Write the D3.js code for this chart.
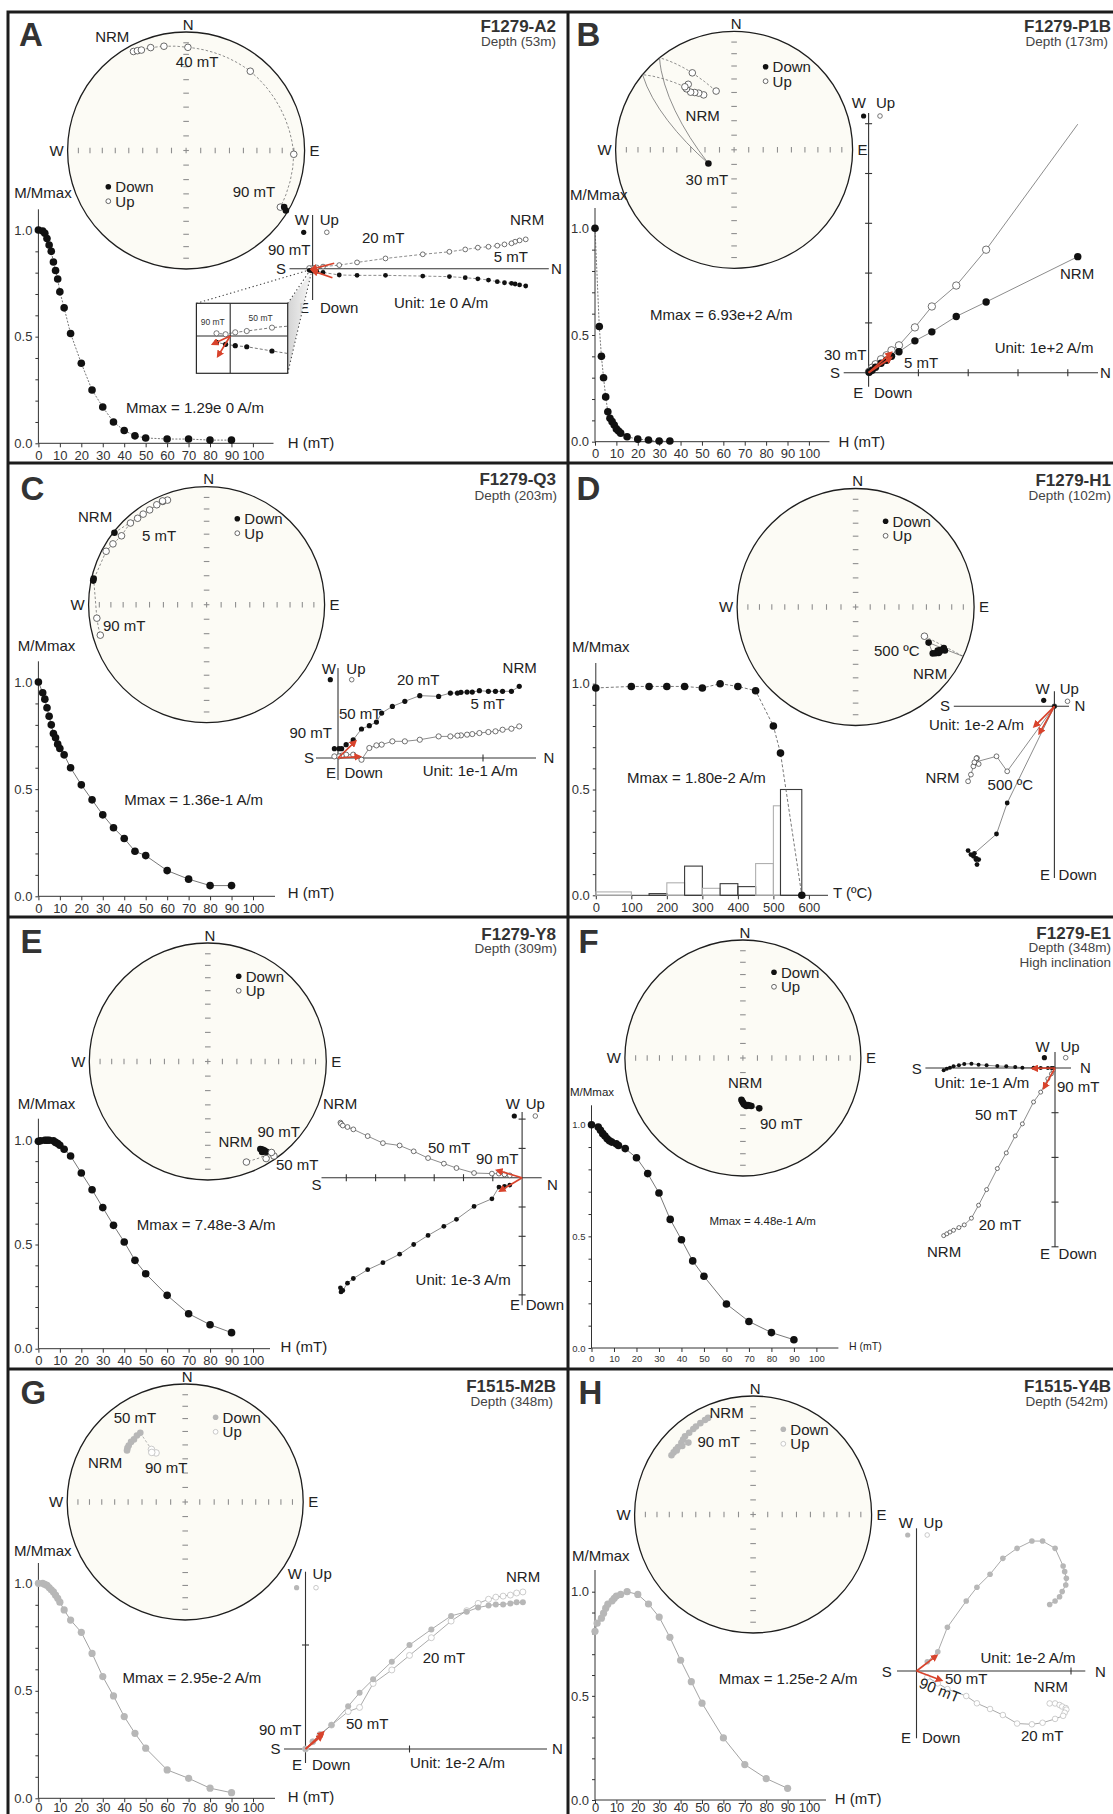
<!DOCTYPE html>
<html>
<head>
<meta charset="utf-8">
<script src="https://cdn.jsdelivr.net/npm/d3@7"></script>
<style>
  body { margin: 0; background: #fff; }
  svg { display: block; }
</style>
</head>
<body>
<script>
// ============ Data ============
// AF / thermal demagnetisation curves (step, M/Mmax)
const demagA_H = [0,2,3,4,5,6,7,8,9,10,12,15,20,25,30,35,40,45,50,60,70,80,90];
const demagA_M = [1,0.995,0.985,0.96,0.93,0.9,0.85,0.81,0.77,0.71,0.635,0.515,0.375,0.25,0.17,0.1,0.06,0.035,0.025,0.02,0.02,0.015,0.015];
const demagB_H = [0,2,3,4,5,6,7,8,9,10,11,12,15,20,25,30,35];
const demagB_M = [1,0.54,0.4,0.3,0.21,0.14,0.11,0.094,0.078,0.06,0.05,0.04,0.023,0.012,0.008,0.003,0.003];
const demagC_H = [0,2,3,4,5,6,7,8,9,10,12,15,20,25,30,35,40,45,50,60,70,80,90];
const demagC_M = [1,0.95,0.92,0.88,0.84,0.8,0.76,0.74,0.71,0.69,0.66,0.6,0.52,0.45,0.38,0.32,0.27,0.21,0.19,0.12,0.08,0.05,0.05];
const demagD_T = [0,100,150,200,250,300,350,400,450,500,520,580];
const demagD_M = [0.98,0.987,0.987,0.987,0.987,0.98,1.0,0.987,0.967,0.8,0.672,0];
const histD_from = [0,150,200,250,300,350,400,450,500,520];
const histD_to   = [100,200,250,300,350,400,450,500,520,580];
const histD_val  = [0.016,0.008,0.059,0.138,0.033,0.055,0.041,0.15,0.423,0.5];
const histD_tone = ["light","dark","light","dark","light","dark","dark","light","light","dark"];
const demagE_H = [0,1,3,4,5,7,8,9,10,12,15,20,25,30,35,40,45,50,60,70,80,90];
const demagE_M = [0.995,0.998,1,1,1,0.998,0.99,0.985,0.976,0.957,0.925,0.843,0.763,0.677,0.592,0.512,0.424,0.36,0.256,0.168,0.115,0.077];
const demagF_H = [0,3,4,5,6,7,8,9,11,12,15,20,25,30,35,40,45,50,60,70,80,90];
const demagF_M = [1,0.99,0.975,0.96,0.949,0.937,0.928,0.922,0.915,0.907,0.893,0.852,0.781,0.694,0.576,0.485,0.39,0.321,0.197,0.119,0.069,0.037];
const demagG_H = [0,2,3,4,5,6,7,8,9,10,12,15,20,25,30,35,40,45,50,60,70,80,90];
const demagG_M = [1,1,0.995,0.99,0.98,0.97,0.96,0.945,0.93,0.912,0.876,0.829,0.772,0.674,0.566,0.476,0.38,0.302,0.233,0.132,0.093,0.047,0.026];
const demagH_H = [0,1,3,4,5,6,8,9,10,12,15,20,25,30,35,40,45,50,60,70,80,90];
const demagH_M = [0.81,0.849,0.873,0.897,0.921,0.94,0.956,0.968,0.979,0.987,1.0,0.987,0.941,0.878,0.781,0.671,0.568,0.465,0.298,0.17,0.103,0.056];

// Stereonet directions (declination, inclination; negative = upper hemisphere)
const stereoA_dec = [332,334,336,341,348,1,39,92,121,120,121];
const stereoA_inc = [-6,-7,-8,-9,-11,-14,-15,-10,-8,5,2];
const stereoB_dec = [331,328,325.5,323,322,325,322,242,331.5,343];
const stereoB_inc = [-46,-43,-41,-39,-35,-33,-33,70,-27,-47];
const stereoC_dec = [308,337,339.5,337,333.5,329,325,321.4,317,309,303,298,282,283,263,254];
const stereoC_inc = [1,-5.5,-6,-5,-6,-7,-7,-7,-6,-8,-6,-4,2,2,-7,-7];
const stereoD_dec = [115,117,116,118,117,118,119,120,121,116,113];
const stereoD_inc = [19,20.5,17.3,20.8,21,22.6,21,23,25,32,-37];
const stereoE_dec = [149,148.5,148,149,147.5,148,147,145,149,145,159];
const stereoE_inc = [15,14,13.3,12,12,11.5,10,-3,-5,-7,-10];
const stereoF_dec = [182,181,180,179,178,176,174,172,170,162];
const stereoF_inc = [61,60,59,58,57.5,56.5,57,56.6,56,53];
const stereoG_dec = [311.5,313,315,318,320.7,324,327,327.3,329.3,326];
const stereoG_inc = [34.5,33.5,32.8,32,32,31,30.8,-46,-50,-48];
const stereoH_dec = [335,333,330,327,325,322,319,317,315,312,310,308,306,310,314,318];
const stereoH_inc = [11,11.5,12,12.5,13,13.5,13.5,14.5,15.5,16,16,16,16,17,18,19.5];

// Orthogonal vector components (North, East, Down) in each plot's unit
const zijA_N = [1.184,1.15,1.125,1.105,1.066,1.026,0.977,0.918,0.848,0.76,0.612,0.405,0.247,0.148,0.058,0.023,0.007,-0.0064,-0.019];
const zijA_E = [0.096,0.09,0.085,0.081,0.078,0.072,0.063,0.056,0.05,0.044,0.041,0.037,0.037,0.035,0.0208,0.0149,0.0135,0.0115,0.0088];
const zijA_D = [-0.163,-0.157,-0.15,-0.141,-0.135,-0.128,-0.122,-0.117,-0.107,-0.094,-0.08,-0.057,-0.035,-0.02,-0.0116,-0.0069,-0.0051,-0.0024,-0.0037];
const zijB_N = [4.2,2.36,1.76,1.27,0.93,0.61,0.46,0.36,0.25,0.14,0.07,0.01];
const zijB_E = [-2.33,-1.42,-1.13,-0.82,-0.64,-0.42,-0.33,-0.25,-0.19,-0.11,-0.05,-0.01];
const zijB_D = [-4.99,-2.47,-1.75,-1.33,-0.91,-0.55,-0.45,-0.35,-0.27,-0.17,-0.1,-0.02];
const zijC_N = [1.25,1.196,1.135,1.086,1.037,0.975,0.926,0.89,0.848,0.824,0.775,0.694,0.564,0.461,0.375,0.301,0.265,0.216,0.162,0.105,0.056,0.025,0.007,-0.025];
const zijC_E = [-0.494,-0.46,-0.46,-0.46,-0.46,-0.464,-0.455,-0.455,-0.453,-0.448,-0.448,-0.425,-0.43,-0.391,-0.356,-0.31,-0.248,-0.223,-0.2,-0.126,-0.092,-0.064,-0.064,-0.064];
const zijC_D = [-0.218,-0.202,-0.195,-0.184,-0.179,-0.172,-0.165,-0.161,-0.156,-0.154,-0.149,-0.149,-0.126,-0.115,-0.115,-0.092,-0.087,-0.069,0.012,-0.023,-0.023,-0.016,-0.011,-0.011];
const zijD_N = [-0.863,-0.835,-0.81,-0.785,-0.774,-0.757,-0.78,-0.8,-0.579,-0.472,0];
const zijD_E = [1.443,1.483,1.5,1.533,1.583,1.533,1.52,1.47,1.277,0.967,0];
const zijD_D = [0.75,0.683,0.6,0.557,0.517,0.577,0.52,0.56,0.5,0.65,0];
const zijE_N = [-6.2,-6.18,-6.12,-5.96,-5.76,-5.27,-4.75,-4.18,-3.7,-3.21,-2.67,-2.24,-1.64,-1.03,-0.79,-0.6,-0.42];
const zijE_E = [3.76,3.9,3.85,3.6,3.44,3.14,2.9,2.61,2.28,1.97,1.66,1.42,0.98,0.72,0.32,0.3,0.25];
const zijE_D = [-1.88,-1.84,-1.78,-1.73,-1.65,-1.42,-1.18,-1.1,-0.9,-0.67,-0.48,-0.33,-0.16,-0.14,-0.14,-0.11,-0.08];
const zijF_N = [-2.49,-2.42,-2.35,-2.27,-2.15,-2.03,-1.87,-1.71,-1.53,-1.29,-1.09,-0.89,-0.73,-0.48,-0.32,-0.16,-0.08,-0.04];
const zijF_E = [0.05,0.015,-0.007,-0.037,-0.06,-0.09,-0.097,-0.075,-0.06,-0.045,-0.037,-0.022,-0.007,-0.007,0,0,0,0];
const zijF_D = [3.75,3.71,3.67,3.63,3.57,3.51,3.36,3.07,2.72,2.25,1.9,1.52,1.25,0.76,0.54,0.24,0.13,0.05];
const zijG_N = [2.09,2.03,1.97,1.9,1.83,1.76,1.66,1.55,1.4,1.21,1.0,0.83,0.65,0.52,0.41,0.25,0.14,0.07,0];
const zijG_E = [-1.41,-1.41,-1.4,-1.39,-1.39,-1.38,-1.36,-1.32,-1.28,-1.15,-1.0,-0.84,-0.67,-0.54,-0.41,-0.23,-0.14,-0.07,0];
const zijG_D = [-1.51,-1.5,-1.48,-1.47,-1.46,-1.44,-1.4,-1.33,-1.23,-1.07,-0.9,-0.76,-0.63,-0.4,-0.36,-0.23,-0.14,-0.07,0];
const zijH_N = [0.862,0.897,0.926,0.943,0.966,0.97,0.959,0.949,0.897,0.816,0.747,0.651,0.559,0.476,0.391,0.322,0.2,0.138,0.07];
const zijH_E = [-0.43,-0.453,-0.481,-0.514,-0.557,-0.6,-0.643,-0.68,-0.794,-0.841,-0.841,-0.794,-0.729,-0.626,-0.542,-0.453,-0.283,-0.125,-0.06];
const zijH_D = [0.21,0.21,0.22,0.23,0.24,0.25,0.27,0.29,0.31,0.335,0.345,0.34,0.285,0.246,0.209,0.162,0.117,0.08,0.04];

// Principal-component fit directions near the origin [N1, up1, N2, up2] per projection
const fitA = [[0.12,0.03,-0.005,-0.002],[0.11,-0.05,0.0,-0.012]];
const fitB = [[0,0,0.45,0.4],[0,0,0.45,0.3]];
const fitC = [[0,0,0.12,0.115],[0,0,0.15,0.01]];
const fitD = [[0,0,-0.2,-0.2],[0,0,-0.15,-0.27]];
const fitE = [[0,0,-0.85,0.25],[0,0,-0.75,-0.45]];
const fitF = [[0,0,-0.5,-0.01],[0,0,-0.25,-0.45]];
const fitG = [[0,0,0.17,0.16],[0,0,0.16,0.13]];
const fitH = [[0,0,0.13,0.1],[0,0,0.16,-0.06]];
const fitA_inset = [[0,0,-0.024,-0.011],[0,0,-0.017,-0.028]];

// ============ Drawing ============
const FONT = "'Liberation Sans', Arial, Helvetica, sans-serif";
const RED = "#d8432c";
const GREYDOT = "#b7b7b7";

const svg = d3.select("body").append("svg")
  .attr("width", 1113).attr("height", 1814)
  .style("font-family", FONT);

const defs = svg.append("defs");
defs.append("marker").attr("id", "redHead")
  .attr("viewBox", "0 0 10 10").attr("refX", 7).attr("refY", 5)
  .attr("markerWidth", 4.5).attr("markerHeight", 4.5).attr("orient", "auto")
  .append("path").attr("d", "M0,0L10,5L0,10z").attr("fill", RED);
const grad = defs.append("linearGradient").attr("id", "funnel").attr("x1", 0).attr("x2", 1).attr("y1", 0).attr("y2", 0);
grad.append("stop").attr("offset", "0%").attr("stop-color", "#cfcfcf");
grad.append("stop").attr("offset", "100%").attr("stop-color", "#f4f4f4");

function txt(g, s, x, y, o = {}) {
  const t = g.append("text").attr("x", x).attr("y", y)
    .attr("font-size", o.size || 15)
    .attr("text-anchor", o.anchor || "start")
    .attr("fill", o.fill || "#222")
    .text(s);
  if (o.weight) t.attr("font-weight", o.weight);
  if (o.rotate) t.attr("transform", `rotate(${o.rotate},${x},${y})`);
  return t;
}

// ---- stereonet (equal-area, lower hemisphere) ----
function drawStereo(g, s) {
  const proj = d3.geoAzimuthalEqualArea().rotate([0, -90])
    .scale(s.r / Math.SQRT2).translate([s.cx, s.cy]).precision(0.2);
  const path = d3.geoPath(proj);
  const ll = (d, i) => [180 - d, Math.abs(i)];
  g.append("circle").attr("cx", s.cx).attr("cy", s.cy).attr("r", s.r)
    .attr("fill", "#fcfbf5").attr("stroke", "#1e1e1e").attr("stroke-width", 1.3);
  const tk = g.append("g").attr("stroke", "#8f8f8f").attr("stroke-width", 1.1);
  [0, 90, 180, 270].forEach(az => {
    d3.range(10, 90, 10).forEach(t => {
      const [x, y] = proj(ll(az, t));
      if (az % 180 === 0) tk.append("line").attr("x1", x - 2.8).attr("x2", x + 2.8).attr("y1", y).attr("y2", y);
      else tk.append("line").attr("x1", x).attr("x2", x).attr("y1", y - 2.8).attr("y2", y + 2.8);
    });
  });
  tk.append("line").attr("x1", s.cx - 2.8).attr("x2", s.cx + 2.8).attr("y1", s.cy).attr("y2", s.cy);
  tk.append("line").attr("x1", s.cx).attr("x2", s.cx).attr("y1", s.cy - 2.8).attr("y2", s.cy + 2.8);

  txt(g, "N", s.cx + 2, s.cy - s.r - 2.5, { anchor: "middle" });
  txt(g, "W", s.cx - s.r - 4, s.cy + 5, { anchor: "end" });
  txt(g, "E", s.cx + s.r + 5, s.cy + 5);

  const dec = s.dec, inc = s.inc;
  const lineCol = s.grey ? "#9a9a9a" : "#6a6a6a";
  const lines = g.append("g").attr("fill", "none").attr("stroke", lineCol).attr("stroke-width", 0.75);
  const r = Math.PI / 180;
  const vec = (d, i) => [Math.cos(i * r) * Math.cos(d * r), Math.cos(i * r) * Math.sin(d * r), Math.sin(i * r)];
  for (let k = 0; k < dec.length - 1; k++) {
    const a = [dec[k], inc[k]], b = [dec[k + 1], inc[k + 1]];
    const upA = a[1] < 0, upB = b[1] < 0;
    if (upA === upB) {
      lines.append("path").attr("d", path({ type: "LineString", coordinates: [ll(...a), ll(...b)] }))
        .attr("stroke-dasharray", upA ? "2.5,2" : null);
    } else if (s.crossEdge) {
      const va = vec(...a), vb = vec(...b);
      const t = va[2] / (va[2] - vb[2]);
      const pn = va[0] + t * (vb[0] - va[0]), pe = va[1] + t * (vb[1] - va[1]);
      const dp = Math.atan2(pe, pn) / r;
      const up = upA ? a : b, dn = upA ? b : a;
      lines.append("path").attr("d", path({ type: "LineString", coordinates: [ll(...up), ll(dp, 0)] }))
        .attr("stroke-dasharray", "2.5,2");
      lines.append("path").attr("d", path({ type: "LineString", coordinates: [ll(dp, 0), ll(...dn)] }));
    } else {
      const p1 = proj(ll(...a)), p2 = proj(ll(...b));
      lines.append("line").attr("x1", p1[0]).attr("y1", p1[1]).attr("x2", p2[0]).attr("y2", p2[1])
        .attr("stroke-dasharray", "2.5,2");
    }
  }
  const pts = dec.map((d, k) => ({ p: proj(ll(d, inc[k])), up: inc[k] < 0 }));
  const fillCol = s.grey ? GREYDOT : "#111";
  g.append("g").selectAll("circle").data(pts).join("circle")
    .attr("cx", d => d.p[0]).attr("cy", d => d.p[1]).attr("r", 3.3)
    .attr("fill", d => d.up ? "#fff" : fillCol)
    .attr("stroke", d => d.up ? (s.grey ? "#bdbdbd" : "#444") : "none")
    .attr("stroke-width", 0.8);

  // legend
  const [lx, ly] = s.legend;
  g.append("circle").attr("cx", lx).attr("cy", ly).attr("r", 2.8).attr("fill", fillCol);
  g.append("circle").attr("cx", lx).attr("cy", ly + 14.5).attr("r", 2.4)
    .attr("fill", "#fff").attr("stroke", s.grey ? "#bdbdbd" : "#444").attr("stroke-width", 0.8);
  txt(g, "Down", lx + 7, ly + 5.5);
  txt(g, "Up", lx + 7, ly + 20);

  s.labels.forEach(l => txt(g, l[0], l[1], l[2]));
}

// ---- demagnetisation curve ----
function drawDemag(g, d) {
  const x = d3.scaleLinear().domain([0, d.xMax]).range([d.x0, d.x1]);
  const y = d3.scaleLinear().domain([0, 1]).range([d.y0, d.y1]);
  const small = d.small;
  const tickSize = small ? 9.5 : 13;
  const ax = g.append("g").attr("stroke", "#333").attr("stroke-width", 1);
  ax.append("line").attr("x1", d.x0).attr("x2", d.x0).attr("y1", d.y0).attr("y2", d.top);
  ax.append("line").attr("x1", d.x0).attr("x2", d.right).attr("y1", d.y0).attr("y2", d.y0);

  const yAxis = d3.axisLeft(y).tickValues(d3.range(0, 1.0001, 0.1)).tickSize(3).tickPadding(3)
    .tickFormat(v => Math.abs(v * 2 - Math.round(v * 2)) < 1e-6 ? d3.format(".1f")(v) : "");
  const ya = g.append("g").attr("transform", `translate(${d.x0},0)`).call(yAxis);
  ya.select(".domain").remove();
  ya.selectAll("line").attr("stroke", "#333");
  ya.selectAll("text").attr("font-size", tickSize).attr("fill", "#333").attr("font-family", FONT);

  const step = d.xMax === 600 ? 100 : 10;
  const xAxis = d3.axisBottom(x).tickValues(d3.range(0, d.xMax + 1, step)).tickSize(4)
    .tickPadding(d.xPad === undefined ? 3 : d.xPad)
    .tickFormat(d3.format("d"));
  const xa = g.append("g").attr("transform", `translate(0,${d.y0})`).call(xAxis);
  xa.select(".domain").remove();
  xa.selectAll("line").attr("stroke", "#333");
  xa.selectAll("text").attr("font-size", tickSize).attr("fill", "#333").attr("font-family", FONT);

  if (d.hist) {
    const h = d.hist;
    g.append("g").selectAll("rect").data(h.from).join("rect")
      .attr("x", (v, i) => x(v)).attr("width", (v, i) => x(h.to[i]) - x(v))
      .attr("y", (v, i) => y(h.val[i])).attr("height", (v, i) => y(0) - y(h.val[i]))
      .attr("fill", "none").attr("stroke-width", 1.1)
      .attr("stroke", (v, i) => h.tone[i] === "dark" ? "#3a3a3a" : "#b0b0b0");
  }

  const pts = d.xs.map((v, i) => [x(v), y(d.ms[i])]);
  g.append("path").attr("d", d3.line()(pts)).attr("fill", "none")
    .attr("stroke", d.grey ? "#8c8c8c" : "#555").attr("stroke-width", 0.8)
    .attr("stroke-dasharray", d.dash || null);
  g.append("g").selectAll("circle").data(pts).join("circle")
    .attr("cx", p => p[0]).attr("cy", p => p[1]).attr("r", d.grey ? 3.6 : 3.8)
    .attr("fill", d.grey ? GREYDOT : "#111");

  txt(g, "M/Mmax", d.mlab[0], d.mlab[1], { size: small ? 11.5 : 15 });
  txt(g, d.xlabel, d.xlab[0], d.xlab[1], { size: small ? 10.5 : 15 });
  txt(g, d.mmax, d.mmaxAt[0], d.mmaxAt[1], { size: small ? 11.5 : 15 });
}

// ---- orthogonal (Zijderveld) projection ----
function drawRedFits(g, x, y, fits) {
  fits.forEach(f => {
    g.append("line").attr("x1", x(f[0])).attr("y1", y(f[1])).attr("x2", x(f[2])).attr("y2", y(f[3]))
      .attr("stroke", RED).attr("stroke-width", 1.7).attr("marker-end", "url(#redHead)");
  });
}

function drawZij(g, z) {
  const x = d3.scaleLinear().domain([0, 1]).range([z.o[0], z.o[0] + z.u]);
  const y = d3.scaleLinear().domain([0, 1]).range([z.o[1], z.o[1] - z.u]);
  const ax = g.append("g").attr("stroke", "#333").attr("stroke-width", 1.1);
  ax.append("line").attr("x1", z.h[0]).attr("x2", z.h[1]).attr("y1", z.o[1]).attr("y2", z.o[1]);
  ax.append("line").attr("x1", z.o[0]).attr("x2", z.o[0]).attr("y1", z.v[0]).attr("y2", z.v[1]);
  (z.hT || []).forEach(t => ax.append("line").attr("x1", x(t)).attr("x2", x(t)).attr("y1", z.o[1] - 3.5).attr("y2", z.o[1] + 3.5));
  (z.vT || []).forEach(t => ax.append("line").attr("x1", z.o[0] - 3.5).attr("x2", z.o[0] + 3.5).attr("y1", y(t)).attr("y2", y(t)));

  const hor = z.N.map((n, i) => [x(n), y(-z.E[i])]);
  const ver = z.N.map((n, i) => [x(n), y(-z.D[i])]);
  const lineCol = z.grey ? "#8e8e8e" : "#666";
  [hor, ver].forEach(s => g.append("path").attr("d", d3.line()(s)).attr("fill", "none")
    .attr("stroke", lineCol).attr("stroke-width", 0.75).attr("stroke-dasharray", z.dash || null));

  const fillCol = z.grey ? GREYDOT : "#111";
  const hide = z.hideOpen || [];
  g.append("g").selectAll("circle").data(ver.filter((p, i) => !hide.includes(i))).join("circle")
    .attr("cx", p => p[0]).attr("cy", p => p[1]).attr("r", z.mr)
    .attr("fill", "#fff").attr("stroke", z.grey ? "#bcbcbc" : "#444").attr("stroke-width", 0.75);
  g.append("g").selectAll("circle").data(hor).join("circle")
    .attr("cx", p => p[0]).attr("cy", p => p[1]).attr("r", z.mr).attr("fill", fillCol);

  drawRedFits(g, x, y, z.fit);

  // axis annotations
  txt(g, "W", z.labW[0], z.labW[1], { anchor: "end" });
  txt(g, "Up", z.labUp[0], z.labUp[1]);
  g.append("circle").attr("cx", z.dotF[0]).attr("cy", z.dotF[1]).attr("r", 2.6).attr("fill", fillCol);
  g.append("circle").attr("cx", z.dotO[0]).attr("cy", z.dotO[1]).attr("r", 2.3).attr("fill", "#fff")
    .attr("stroke", z.grey ? "#bcbcbc" : "#555").attr("stroke-width", 0.8);
  txt(g, "S", z.labS[0], z.labS[1], { anchor: "end" });
  txt(g, "N", z.labN[0], z.labN[1]);
  txt(g, "E", z.labE[0], z.labE[1], { anchor: "end" });
  txt(g, "Down", z.labDown[0], z.labDown[1]);
  z.labels.forEach(l => txt(g, l[0], l[1], l[2], { rotate: l[3] || 0 }));
}

// ---- magnified view of the last AF steps (panel A) ----
function drawInsetA(g) {
  const bx = 196.4, by = 303.3, bw = 91.3, bh = 70;
  const apex = [311, 271];
  g.append("polygon").attr("points", `${bx + bw},${by} ${bx + bw},${by + bh} ${apex[0]},${apex[1] + 2}`)
    .attr("fill", "url(#funnel)").attr("opacity", 0.9);
  const dots = g.append("g").attr("stroke", "#444").attr("stroke-width", 1.1).attr("stroke-dasharray", "1.3,2.6");
  dots.append("line").attr("x1", bx).attr("y1", by).attr("x2", apex[0] - 5).attr("y2", apex[1]);
  dots.append("line").attr("x1", bx + bw).attr("y1", by).attr("x2", apex[0] - 2).attr("y2", apex[1] + 1);
  dots.append("line").attr("x1", bx + bw).attr("y1", by + bh).attr("x2", apex[0]).attr("y2", apex[1] + 3);

  g.append("rect").attr("x", bx).attr("y", by).attr("width", bw).attr("height", bh)
    .attr("fill", "#fff").attr("stroke", "#2a2a2a").attr("stroke-width", 1.2);
  defs.append("clipPath").attr("id", "insetClip").append("rect")
    .attr("x", bx).attr("y", by).attr("width", bw).attr("height", bh);
  const o = [230.2, 336], u = 720;
  const x = d3.scaleLinear().domain([0, 1]).range([o[0], o[0] + u]);
  const y = d3.scaleLinear().domain([0, 1]).range([o[1], o[1] - u]);
  const ig = g.append("g").attr("clip-path", "url(#insetClip)");
  ig.append("line").attr("x1", bx).attr("x2", bx + bw).attr("y1", o[1]).attr("y2", o[1]).attr("stroke", "#2a2a2a").attr("stroke-width", 1.1);
  ig.append("line").attr("x1", o[0]).attr("x2", o[0]).attr("y1", by).attr("y2", by + bh).attr("stroke", "#2a2a2a").attr("stroke-width", 1.1);
  const idx = d3.range(13, zijA_N.length);
  const hor = idx.map(i => [x(zijA_N[i]), y(-zijA_E[i])]);
  const ver = idx.map(i => [x(zijA_N[i]), y(-zijA_D[i])]);
  [hor, ver].forEach(s => ig.append("path").attr("d", d3.line()(s)).attr("fill", "none")
    .attr("stroke", "#555").attr("stroke-width", 0.8).attr("stroke-dasharray", "3,2"));
  ig.append("g").selectAll("circle").data(ver.slice(1)).join("circle")
    .attr("cx", p => p[0]).attr("cy", p => p[1]).attr("r", 2.6)
    .attr("fill", "#fff").attr("stroke", "#555").attr("stroke-width", 0.8);
  ig.append("g").selectAll("circle").data(hor.slice(1)).join("circle")
    .attr("cx", p => p[0]).attr("cy", p => p[1]).attr("r", 2.6).attr("fill", "#111");
  drawRedFits(ig, x, y, fitA_inset);
  txt(g, "90 mT", 200.7, 325, { size: 8.5, fill: "#333" });
  txt(g, "50 mT", 248.6, 320.5, { size: 8.5, fill: "#333" });
}

// ============ Panel layout ============
const panels = [
  { letter: ["A", 19, 46], title: ["F1279-A2", 556, 31.7], depth: ["Depth (53m)", 556, 46],
    stereo: { cx: 186.1, cy: 150.5, r: 118.5, dec: stereoA_dec, inc: stereoA_inc, legend: [108.3, 186.7],
      labels: [["NRM", 95.2, 41.7], ["40 mT", 175.8, 66.7], ["90 mT", 232.7, 196.7]] },
    demag: { x0: 38.4, x1: 252.9, xMax: 100, y0: 443.3, y1: 230, top: 209.3, right: 273.5,
      xs: demagA_H, ms: demagA_M, dash: "2,1.5", xlabel: "H (mT)",
      mlab: [14.2, 198.3], xlab: [287.7, 448], mmax: "Mmax = 1.29e 0 A/m", mmaxAt: [126, 413.3] },
    zij: { o: [312.6, 268.7], u: 180, h: [289.5, 548.8], v: [215, 300], N: zijA_N, E: zijA_E, D: zijA_D,
      mr: 2.4, dash: "3,2", fit: fitA,
      labW: [309, 225.3], labUp: [319.7, 225.3], dotF: [303.7, 232.3], dotO: [326.8, 232.3],
      labS: [286, 274], labN: [551, 274], labE: [309, 313], labDown: [320, 313],
      labels: [["90 mT", 268, 255], ["20 mT", 362, 243.3], ["NRM", 510, 225], ["5 mT", 493.7, 261.7], ["Unit: 1e 0 A/m", 394, 308.3]] },
    inset: true },
  { letter: ["B", 576.5, 46], title: ["F1279-P1B", 1111, 31.7], depth: ["Depth (173m)", 1108, 46],
    stereo: { cx: 734.1, cy: 149.8, r: 118.5, dec: stereoB_dec, inc: stereoB_inc, legend: [765.6, 66.7], crossEdge: true,
      labels: [["NRM", 685.6, 120.7], ["30 mT", 685.6, 185]] },
    demag: { x0: 595, x1: 808.9, xMax: 100, y0: 441.7, y1: 228.3, top: 208, right: 829.5,
      xs: demagB_H, ms: demagB_M, dash: "2,1.5", xlabel: "H (mT)",
      mlab: [570, 200], xlab: [838.4, 446.7], mmax: "Mmax = 6.93e+2 A/m", mmaxAt: [650, 320] },
    zij: { o: [868.6, 372.7], u: 49.8, h: [843.7, 1098], v: [113, 386.7], N: zijB_N, E: zijB_E, D: zijB_D,
      mr: 3.7, fit: fitB, hT: [1, 2, 3, 4], vT: [1, 2, 3, 4, 5], hideOpen: [0],
      labW: [866, 108], labUp: [876, 108], dotF: [863.6, 116], dotO: [880, 116],
      labS: [840, 377.7], labN: [1100, 377.7], labE: [863.3, 398], labDown: [874, 398],
      labels: [["30 mT", 824, 360], ["5 mT", 904, 367.7], ["NRM", 1060, 279.3], ["Unit: 1e+2 A/m", 994.7, 353.3]] } },
  { letter: ["C", 20.5, 500], title: ["F1279-Q3", 556, 485.3], depth: ["Depth (203m)", 557, 500],
    stereo: { cx: 206.6, cy: 604.7, r: 118, dec: stereoC_dec, inc: stereoC_inc, legend: [237.3, 518.7],
      labels: [["NRM", 78, 522.3], ["5 mT", 142, 541.3], ["90 mT", 103, 631.3]] },
    demag: { x0: 38.4, x1: 253, xMax: 100, y0: 896.3, y1: 682, top: 661.3, right: 275,
      xs: demagC_H, ms: demagC_M, xlabel: "H (mT)",
      mlab: [17.8, 650.7], xlab: [287.7, 898], mmax: "Mmax = 1.36e-1 A/m", mmaxAt: [124.3, 804.7] },
    zij: { o: [338, 758], u: 145, h: [316, 536], v: [668, 780], N: zijC_N, E: zijC_E, D: zijC_D,
      mr: 2.6, fit: fitC, hT: [1],
      labW: [336, 674], labUp: [346.3, 674], dotF: [330.3, 679.7], dotO: [351.7, 679.7],
      labS: [314, 763], labN: [543.5, 763], labE: [336, 778], labDown: [344.5, 778],
      labels: [["NRM", 502.6, 673], ["20 mT", 397, 685.3], ["5 mT", 470.6, 708.7], ["50 mT", 339, 718.7], ["90 mT", 289.5, 738], ["Unit: 1e-1 A/m", 422.7, 776.3]] } },
  { letter: ["D", 576.5, 500], title: ["F1279-H1", 1111, 486], depth: ["Depth (102m)", 1111, 500],
    stereo: { cx: 855.6, cy: 607, r: 118.5, dec: stereoD_dec, inc: stereoD_inc, legend: [885.6, 521.3], crossEdge: true,
      labels: [["500 ºC", 874, 655.7], ["NRM", 913, 679]] },
    demag: { x0: 595.8, x1: 808.9, xMax: 600, y0: 895.3, y1: 683.7, top: 663, right: 828,
      xs: demagD_T, ms: demagD_M, dash: "3,2", xlabel: "T (ºC)",
      hist: { from: histD_from, to: histD_to, val: histD_val, tone: histD_tone },
      mlab: [572, 652], xlab: [833, 898], mmax: "Mmax = 1.80e-2 A/m", mmaxAt: [627, 783] },
    zij: { o: [1054.4, 706.3], u: 100, h: [953.8, 1069], v: [691.3, 878], N: zijD_N, E: zijD_E, D: zijD_D,
      mr: 2.4, fit: fitD,
      labW: [1049.7, 694], labUp: [1059.7, 694], dotF: [1043.7, 700.3], dotO: [1067.5, 701.3],
      labS: [950, 711.3], labN: [1074.6, 711.3], labE: [1050, 879.7], labDown: [1058.6, 879.7],
      labels: [["Unit: 1e-2 A/m", 929, 729.7], ["NRM", 925.4, 783], ["500 ºC", 987.6, 789.7]] } },
  { letter: ["E", 20.5, 953], title: ["F1279-Y8", 556, 940], depth: ["Depth (309m)", 557, 953],
    stereo: { cx: 207.8, cy: 1061.5, r: 118.5, dec: stereoE_dec, inc: stereoE_inc, legend: [238.7, 976.3],
      labels: [["NRM", 218.4, 1147], ["90 mT", 257.5, 1137], ["50 mT", 276, 1170.3]] },
    demag: { x0: 38.4, x1: 253, xMax: 100, y0: 1348.7, y1: 1140.3, top: 1118.7, right: 270,
      xs: demagE_H, ms: demagE_M, xlabel: "H (mT)",
      mlab: [17.8, 1108.7], xlab: [280.6, 1352], mmax: "Mmax = 7.48e-3 A/m", mmaxAt: [136.8, 1230.3] },
    zij: { o: [522.1, 1177.7], u: 29.3, h: [321.5, 541.7], v: [1112, 1305.3], N: zijE_N, E: zijE_E, D: zijE_D,
      mr: 2.4, fit: fitE, hT: [-1, -2, -3, -4, -5, -6], vT: [2, 1, -1, -2, -3, -4],
      labW: [520, 1108.7], labUp: [525.7, 1108.7], dotF: [514.3, 1116], dotO: [535.3, 1116],
      labS: [321.5, 1190], labN: [547, 1190], labE: [520, 1310.3], labDown: [525.7, 1310.3],
      labels: [["NRM", 323, 1108.7], ["50 mT", 428, 1152.7], ["90 mT", 476, 1163.7], ["Unit: 1e-3 A/m", 415.6, 1285.3]] } },
  { letter: ["F", 578.5, 953], title: ["F1279-E1", 1111, 938.7], depth: ["Depth (348m)", 1111, 952], extra: ["High inclination", 1111, 967],
    stereo: { cx: 742.9, cy: 1058, r: 118, dec: stereoF_dec, inc: stereoF_inc, legend: [774, 972.3],
      labels: [["NRM", 728, 1088], ["90 mT", 760, 1128.7]] },
    demag: { x0: 591.5, x1: 816.4, xMax: 100, y0: 1348, y1: 1124.7, top: 1105.3, right: 838.4, small: true,
      xs: demagF_H, ms: demagF_M, xlabel: "H (mT)",
      mlab: [570, 1096], xlab: [849, 1350.3], mmax: "Mmax = 4.48e-1 A/m", mmaxAt: [709.5, 1224.7] },
    zij: { o: [1055, 1068], u: 44.7, h: [925.4, 1071], v: [1052, 1247], N: zijF_N, E: zijF_E, D: zijF_D,
      mr: 2.0, fit: fitF, vT: [-1, -2, -3, -4],
      labW: [1049.7, 1052], labUp: [1060.4, 1052], dotF: [1044.4, 1057.7], dotO: [1065.7, 1057.7],
      labS: [921.8, 1073.7], labN: [1080, 1073], labE: [1050, 1258.7], labDown: [1058.6, 1258.7],
      labels: [["Unit: 1e-1 A/m", 934.3, 1088], ["90 mT", 1057, 1092], ["50 mT", 975, 1120.3], ["20 mT", 978.7, 1230.3], ["NRM", 927, 1257]] } },
  { letter: ["G", 20.5, 1404], title: ["F1515-M2B", 556, 1391.7], depth: ["Depth (348m)", 553, 1405.7],
    stereo: { cx: 185.2, cy: 1502, r: 118, dec: stereoG_dec, inc: stereoG_inc, legend: [215.6, 1417.3], grey: true,
      labels: [["50 mT", 113.7, 1422.7], ["NRM", 88, 1468.3], ["90 mT", 145, 1473.3]] },
    demag: { x0: 38.4, x1: 253, xMax: 100, y0: 1798.3, y1: 1583.3, top: 1563, right: 275, grey: true, xPad: 0,
      xs: demagG_H, ms: demagG_M, xlabel: "H (mT)",
      mlab: [14, 1555.7], xlab: [287.7, 1801.7], mmax: "Mmax = 2.95e-2 A/m", mmaxAt: [122.5, 1683.3] },
    zij: { o: [305.5, 1749], u: 104, h: [284, 547], v: [1571.7, 1763], N: zijG_N, E: zijG_E, D: zijG_D,
      mr: 3.0, fit: fitG, hT: [1], vT: [1], grey: true,
      labW: [302, 1579], labUp: [312.6, 1579], dotF: [296.6, 1587.7], dotO: [316, 1587.7],
      labS: [280.6, 1754.3], labN: [552, 1754.3], labE: [302, 1770], labDown: [312, 1770],
      labels: [["NRM", 506, 1581.7], ["20 mT", 422.7, 1662.7], ["50 mT", 346, 1729.3], ["90 mT", 259, 1735], ["Unit: 1e-2 A/m", 410, 1768.3]] } },
  { letter: ["H", 578.5, 1404], title: ["F1515-Y4B", 1111, 1391.7], depth: ["Depth (542m)", 1108, 1405.7],
    stereo: { cx: 753.1, cy: 1514.5, r: 118.5, dec: stereoH_dec, inc: stereoH_inc, legend: [783.3, 1429.3], grey: true,
      labels: [["NRM", 709.5, 1417.7], ["90 mT", 697.4, 1446.7]] },
    demag: { x0: 595, x1: 809, xMax: 100, y0: 1800, y1: 1591.7, top: 1570, right: 826, grey: true, xPad: -1,
      xs: demagH_H, ms: demagH_M, xlabel: "H (mT)",
      mlab: [572, 1561], xlab: [834.8, 1804.3], mmax: "Mmax = 1.25e-2 A/m", mmaxAt: [718.7, 1684.3] },
    zij: { o: [916.5, 1671], u: 154.5, h: [897, 1085.3], v: [1528.3, 1738.3], N: zijH_N, E: zijH_E, D: zijH_D,
      mr: 2.8, fit: fitH, hT: [1], grey: true,
      labW: [913, 1528.3], labUp: [923.6, 1528.3], dotF: [907.7, 1535], dotO: [927.2, 1535],
      labS: [891.7, 1676.7], labN: [1095, 1676.7], labE: [911, 1743.3], labDown: [922, 1743.3],
      labels: [["Unit: 1e-2 A/m", 980.5, 1663.3], ["50 mT", 945, 1684.3], ["90 mT", 918, 1687, 22], ["NRM", 1033.8, 1692.3], ["20 mT", 1021, 1741]] } }
];

panels.forEach(p => {
  const g = svg.append("g");
  drawStereo(g, p.stereo);
  drawDemag(g, p.demag);
  drawZij(g, p.zij);
  if (p.inset) drawInsetA(g);
  txt(g, p.letter[0], p.letter[1], p.letter[2], { size: 33, weight: "bold", fill: "#333" });
  txt(g, p.title[0], p.title[1], p.title[2], { size: 17, weight: "bold", anchor: "end", fill: "#333" });
  txt(g, p.depth[0], p.depth[1], p.depth[2], { size: 13.5, anchor: "end", fill: "#444" });
  if (p.extra) txt(g, p.extra[0], p.extra[1], p.extra[2], { size: 13.5, anchor: "end", fill: "#444" });
});

// panel frame and dividers
const frame = svg.append("g").attr("stroke", "#1c1c1c").attr("stroke-width", 3).attr("fill", "none");
frame.append("rect").attr("x", 8).attr("y", 12).attr("width", 1120).attr("height", 1812);
frame.append("line").attr("x1", 568).attr("x2", 568).attr("y1", 12).attr("y2", 1824);
[463, 917, 1369].forEach(yy => frame.append("line").attr("x1", 8).attr("x2", 1128).attr("y1", yy).attr("y2", yy));
</script>
</body>
</html>
